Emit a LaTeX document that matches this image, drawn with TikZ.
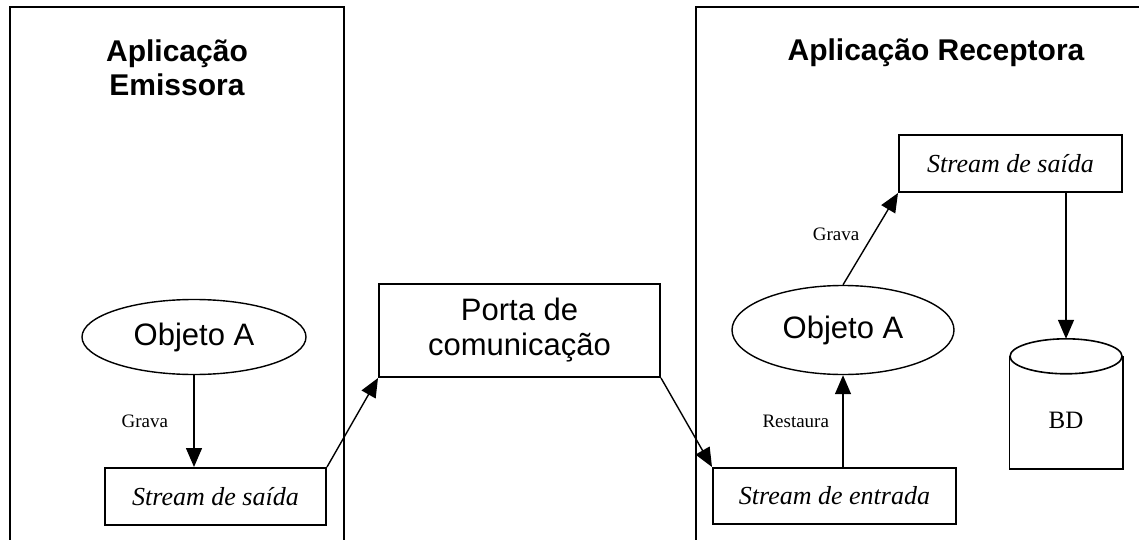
\documentclass[tikz,border=0pt]{standalone}
\usepackage{fontspec}
\setmainfont{Liberation Serif}
\newfontfamily\arialfont{Liberation Sans}
\usetikzlibrary{arrows.meta,shapes.geometric}

\begin{document}
\begin{tikzpicture}[x=1pt, y=-1pt, line width=1.4pt, >={Triangle[width=16pt,length=19pt]}]
   \useasboundingbox (0,0) rectangle (1139,540);
   % the two applications
   \draw[line width=2pt] (10,540) -- (10,7) -- (344,7) -- (344,540);
   \draw[line width=2pt] (696,540) -- (696,7) -- (1139,7);
   \begin{scope}[every node/.style={font=\arialfont\bfseries\fontsize{30}{34}\selectfont, align=center}]
    \node (emissora) at (177,68) {Aplicação\\Emissora};
    \node (receptora) at (936,53) {Aplicação Receptora};
   \end{scope}
   \begin{scope}[every node/.style={ellipse, draw, inner sep=0pt, font=\arialfont\fontsize{31}{34}\selectfont}]
    \node[minimum width=224, minimum height=75] (obj1) at (194,337) {Objeto A};
    \node[minimum width=222, minimum height=89] (obj2) at (843,330) {Objeto A};
   \end{scope}
   \begin{scope}[every node/.style={draw, line width=2pt, inner sep=0pt, font=\itshape\fontsize{26}{30}\selectfont}]
    \node[minimum width=221, minimum height=57] (saida1) at (215.5,496.5) {Stream de saída};
    \node[minimum width=243, minimum height=56] (entrada) at (834.5,496) {Stream de entrada};
    \node[minimum width=223, minimum height=57] (saida2) at (1010.5,163.5) {Stream de saída};
    \node[minimum width=281, minimum height=93, align=center, font=\arialfont\fontsize{31}{35}\selectfont] (porta) at (519.5,330.5) {Porta de\\comunicação};
   \end{scope}
   % database
   \node[minimum width=112, minimum height=111, inner sep=0pt, text height=32pt, font=\fontsize{25}{28}\selectfont] (bd) at (1066,412.5) {BD};
   \draw[line width=1.6pt] (bd.north west) -- (bd.south west) -- (bd.south east) -- (bd.north east);
   \draw[line width=1.6pt] (bd.north) ellipse [x radius=56, y radius=17.5];
   \coordinate (bdtop) at ([yshift=17.5pt]bd.north);
   \begin{scope}[every node/.style={font=\fontsize{19}{22}\selectfont}]
    \draw[->] (obj1.south) -- node[left=22pt]{Grava} (obj1.south |- saida1.north);
    \draw[->] (saida1.north east) -- (porta.south west);
    \draw[->] (porta.south east) -- (entrada.north west);
    \draw[->] (entrada.north -| obj2) -- node[left=10pt]{Restaura} (obj2.south);
    \draw[->] (obj2.north) -- node[left=10pt, pos=0.55]{Grava} (saida2.south west);
    \draw[->] (saida2.south -| bdtop) -- (bdtop);
   \end{scope}
\end{tikzpicture}
\end{document}
